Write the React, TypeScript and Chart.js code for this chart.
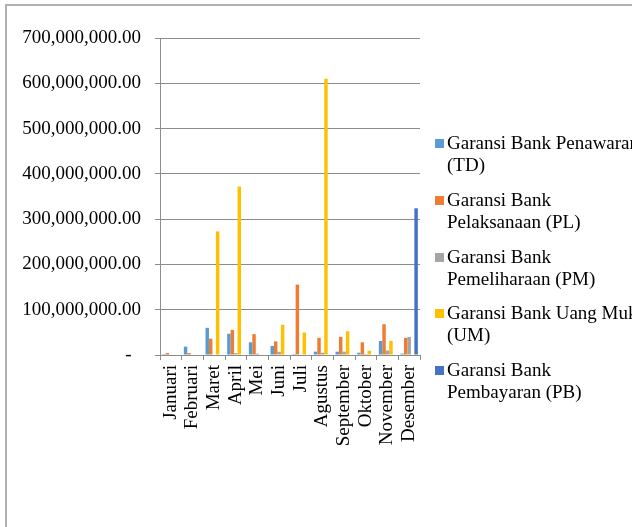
import React, { useEffect, useRef } from "react";
import { Chart, registerables } from "chart.js";

Chart.register(...registerables);

const categories = ["Januari", "Februari", "Maret", "April", "Mei", "Juni", "Juli", "Agustus", "September", "Oktober", "November", "Desember"];

const seriesLines: string[][] = [
  ["Garansi Bank Penawaran", "(TD)"],
  ["Garansi Bank", "Pelaksanaan (PL)"],
  ["Garansi Bank", "Pemeliharaan (PM)"],
  ["Garansi Bank Uang Muka", "(UM)"],
  ["Garansi Bank", "Pembayaran (PB)"],
];
const seriesColors = ["#5B9BD5", "#ED7D31", "#A5A5A5", "#FFC000", "#4472C4"];

const valuesTD = [2000000, 18500000, 60000000, 47000000, 28000000, 20000000, 2000000, 7400000, 7400000, 5000000, 31000000, 3000000];
const valuesPL = [4400000, 4400000, 36000000, 55500000, 46000000, 30000000, 155500000, 37800000, 40000000, 28000000, 68000000, 37800000];
const valuesPM = [1000000, 0, 0, 4000000, 3000000, 7000000, 0, 5000000, 7400000, 2000000, 10000000, 40000000];
const valuesUM = [0, 0, 273000000, 372000000, 0, 66700000, 49600000, 610000000, 52600000, 9600000, 31000000, 0];
const valuesPB = [0, 0, 0, 0, 0, 0, 0, 0, 0, 0, 0, 324000000];

const yTickLabels = ["-  ", "100,000,000.00", "200,000,000.00", "300,000,000.00", "400,000,000.00", "500,000,000.00", "600,000,000.00", "700,000,000.00"];
const yMax = 700000000;
const yStep = 100000000;

const FONT = "'Liberation Serif', 'Times New Roman', serif";
const FSIZE = 19;

export default function App() {
  const canvasRef = useRef<HTMLCanvasElement | null>(null);

  useEffect(() => {
    if (!canvasRef.current) return;
    const allValues = [valuesTD, valuesPL, valuesPM, valuesUM, valuesPB];
    const chart = new Chart(canvasRef.current, {
      type: "bar",
      data: {
        labels: categories,
        datasets: allValues.map((vals, i) => ({
          label: seriesLines[i].join(" "),
          data: vals,
          backgroundColor: seriesColors[i],
          borderWidth: 0,
          categoryPercentage: 0.8,
          barPercentage: 1.0,
        })),
      },
      options: {
        animation: false,
        responsive: false,
        maintainAspectRatio: false,
        layout: { padding: { top: 38, left: 0, right: 212, bottom: 72 } },
        plugins: { legend: { display: false }, tooltip: { enabled: false } },
        scales: {
          x: {
            offset: true,
            grid: { display: true, drawOnChartArea: false, drawTicks: true, tickLength: 5, color: "#8c8c8c", offset: true },
            border: { display: true, color: "#8c8c8c" },
            ticks: { minRotation: 90, maxRotation: 90, autoSkip: false, padding: 5, color: "#000", font: { family: FONT, size: FSIZE } },
            afterFit: (scale: any) => { scale.height = 100; },
          },
          y: {
            min: 0,
            max: yMax,
            grid: { color: "#8c8c8c", tickLength: 5, drawTicks: true },
            border: { display: true, color: "#8c8c8c" },
            ticks: {
              stepSize: yStep,
              padding: 14,
              color: "#000",
              font: { family: FONT, size: FSIZE },
              callback: (_v: any, idx: number) => yTickLabels[idx],
            },
            afterFit: (scale: any) => { scale.width = 160; },
          },
        },
      },
    });
    return () => chart.destroy();
  }, []);

  const itemTops = [132, 189, 246, 302, 359];

  return (
    <div style={{ position: "absolute", left: 0, top: 0, width: 632, height: 527, overflow: "hidden", background: "#fff" }}>
      <div style={{ position: "absolute", left: 5, top: 4, width: 700, height: 700, border: "2px solid #b0b0b0", boxSizing: "border-box" }} />
      <canvas ref={canvasRef} width={632} height={527} style={{ position: "absolute", left: 0, top: 0, width: 632, height: 527 }} />
      {seriesLines.map((lines, i) => (
        <div key={i} style={{ position: "absolute", left: 0, top: itemTops[i] }}>
          <div style={{ position: "absolute", left: 435, top: 7, width: 9, height: 9, background: seriesColors[i] }} />
          <div style={{ position: "absolute", left: 447, top: 0, whiteSpace: "nowrap", fontFamily: FONT, fontSize: FSIZE, lineHeight: "22px", color: "#000" }}>
            {lines.map((l, j) => (<div key={j}>{l}</div>))}
          </div>
        </div>
      ))}
    </div>
  );
}
